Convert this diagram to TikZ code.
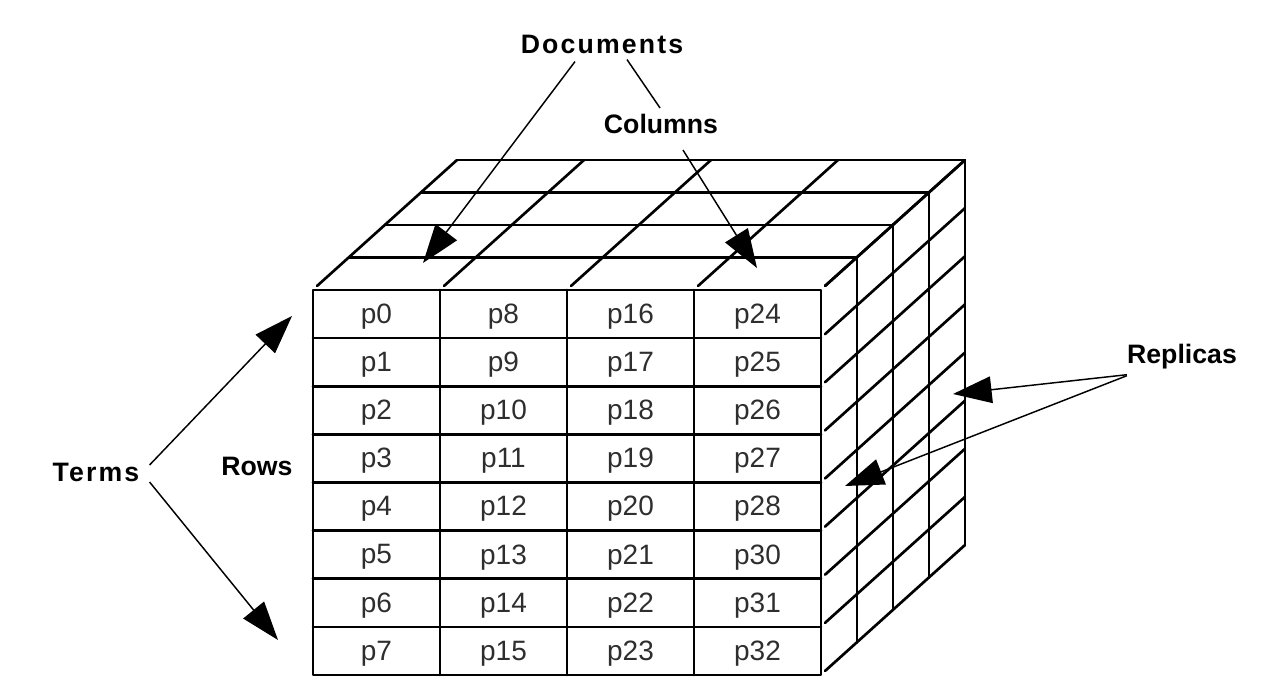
\documentclass[tikz,border=0pt]{standalone}
\usepackage{fontspec}
\setmainfont{Liberation Sans}
\newfontfamily\widesans[LetterSpace=8]{Liberation Sans}
\usetikzlibrary{arrows.meta}

\begin{document}
\begin{tikzpicture}[x=0.75pt,y=-0.75pt,
  edge/.style={line width=2pt, line cap=round, line join=round},
  cell/.style={inner sep=0pt, text=black!82, font=\fontsize{21}{24}\selectfont},
  lbl/.style={inner sep=0pt, font=\bfseries\fontsize{20}{24}\selectfont},
  widelbl/.style={inner sep=0pt, font=\widesans\bfseries\fontsize{20}{24}\selectfont},
  ptr/.style={line width=1.1pt, -{Triangle[length=29pt,width=20pt]}},
  tie/.style={line width=1.1pt}
]
\useasboundingbox (0,0) rectangle (1286,681);

% front face: 4 columns x 8 rows
\def\fl{313}\def\fr{821}\def\ft{290}\def\fb{675}
\def\cw{127}\def\rh{48.125}
\draw[edge] (\fl,\ft) rectangle (\fr,\fb);
\foreach \c in {1,2,3}
  \draw[edge] ({\fl+\cw*\c},\ft) -- ({\fl+\cw*\c},\fb);
\foreach \r in {1,...,7}
  \draw[edge] (\fl,{\ft+\rh*\r}) -- (\fr,{\ft+\rh*\r});

% top face: depth diagonals from each column boundary
\foreach \c in {0,...,4}
  \draw[edge] ({\fl+\cw*\c+4},\ft-4) -- ({\fl+\cw*\c+144},\ft-130);

% right face: depth diagonals from each row boundary
\foreach \r in {0,...,8}
  \draw[edge] (\fr+4,{\ft+\rh*\r-4}) -- (\fr+144,{\ft+\rh*\r-130});

% replica slices behind the front face
\foreach \k in {1,...,4}
  \draw[edge] ({\fl+36*\k},{\ft-32.5*\k}) -- ({\fr+36*\k},{\ft-32.5*\k})
              -- ({\fr+36*\k},{\fb-32.5*\k});

% cell labels, column by column
\foreach \n [count=\i from 0] in {0,1,2,3,4,5,6,7,8,9,10,11,12,13,14,15,16,17,18,19,20,21,22,23,24,25,26,27,28,30,31,32} {
  \pgfmathtruncatemacro\c{int(\i/8)}
  \pgfmathtruncatemacro\r{mod(\i,8)}
  \node[cell] (p\n) at ({\fl+\cw*(\c+0.5)},{\ft+\rh*(\r+0.5)+2.5}) {p\n};
}

% annotations
\node[widelbl] (doc) at (602,44) {Documents};
\node[lbl] (col) at (661,124) {Columns};
\node[widelbl] (terms) at (96,472) {Terms};
\node[lbl] (rows) at (257,466) {Rows};
\node[lbl] (repl) at (1182,357) {Replicas};

\coordinate (tipDoc) at (423,263);
\coordinate (tipCol) at (757,268);
\coordinate (tipT1) at (292,316);
\coordinate (tipT2) at (278,640);
\coordinate (tipR1) at (953,394);
\coordinate (tipR2) at (845,486);

\draw[ptr] ([shift={(-27,8)}]doc.south) -- (tipDoc);
\draw[tie] ([shift={(25,6)}]doc.south) -- ([shift={(-1,-6)}]col.north);
\draw[ptr] ([shift={(22,16)}]col.south) -- (tipCol);
\draw[ptr] ([shift={(10,-7)}]terms.east) -- (tipT1);
\draw[ptr] ([shift={(10,10)}]terms.east) -- (tipT2);
\draw[ptr] ([shift={(0,5)}]repl.south west) -- (tipR1);
\draw[ptr] ([shift={(0,6)}]repl.south west) -- (tipR2);
\end{tikzpicture}
\end{document}
